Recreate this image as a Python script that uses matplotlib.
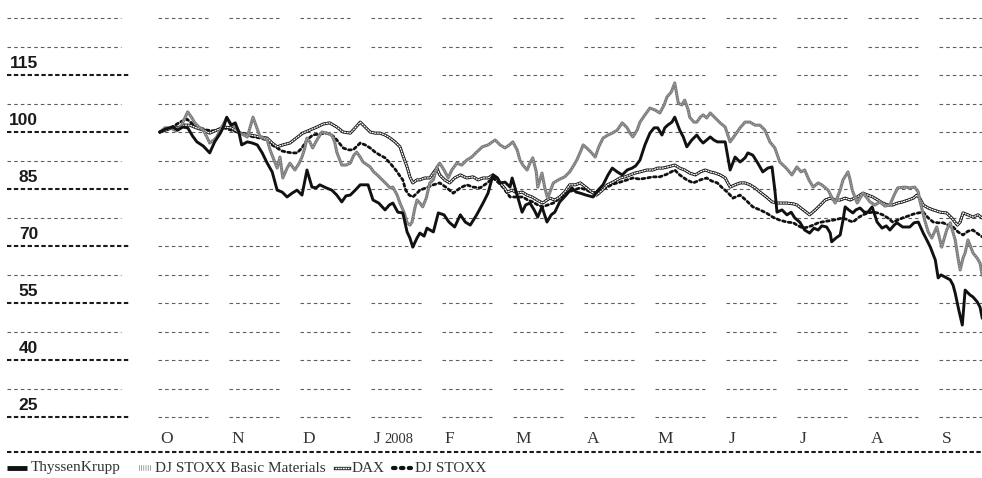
import numpy as np
import matplotlib
matplotlib.use("Agg")
import matplotlib.pyplot as plt

# Time axis: months since 1 Oct 2007; values indexed to 100
months = ["O", "N", "D", "J", "F", "M", "A", "M", "J", "J", "A", "S"]
label_levels = [115, 100, 85, 70, 55, 40, 25]

tk_t = [0, 0.08, 0.18, 0.25, 0.32, 0.39, 0.46, 0.52, 0.61, 0.66, 0.70, 0.77, 0.85, 0.90, 0.94, 1.00,
        1.06, 1.11, 1.15, 1.23, 1.30, 1.37, 1.44, 1.51, 1.58, 1.65, 1.72, 1.79, 1.86, 1.93, 2.00,
        2.07, 2.14, 2.20, 2.25, 2.34, 2.42, 2.49, 2.56, 2.62, 2.68, 2.75, 2.82, 2.93, 3.00, 3.08,
        3.17, 3.23, 3.28, 3.35, 3.42, 3.48, 3.52, 3.56, 3.62, 3.66, 3.72, 3.76, 3.85, 3.92, 4.00,
        4.07, 4.15, 4.23, 4.30, 4.37, 4.46, 4.55, 4.62, 4.69, 4.75, 4.79, 4.86, 4.93, 4.96, 5.03,
        5.10, 5.15, 5.21, 5.27, 5.32, 5.38, 5.45, 5.51, 5.56, 5.63, 5.72, 5.80, 5.86, 5.92, 6.00,
        6.10, 6.17, 6.24, 6.31, 6.37, 6.44, 6.51, 6.58, 6.65, 6.70, 6.76, 6.83, 6.90, 6.96, 7.01,
        7.07, 7.11, 7.15, 7.21, 7.25, 7.32, 7.37, 7.42, 7.49, 7.56, 7.61, 7.65, 7.70, 7.75, 7.80,
        7.85, 7.96, 8.03, 8.10, 8.17, 8.24, 8.28, 8.35, 8.42, 8.49, 8.56, 8.62, 8.66, 8.69, 8.76,
        8.83, 8.89, 8.94, 9.01, 9.08, 9.15, 9.21, 9.27, 9.32, 9.39, 9.44, 9.46, 9.52, 9.58, 9.62,
        9.65, 9.70, 9.76, 9.80, 9.86, 9.92, 9.97, 10.03, 10.10, 10.17, 10.23, 10.28, 10.34, 10.38,
        10.46, 10.56, 10.62, 10.68, 10.75, 10.80, 10.85, 10.92, 10.96, 11.00, 11.06, 11.13, 11.17,
        11.20, 11.25, 11.30, 11.34, 11.41, 11.45, 11.51, 11.55, 11.58]
tk_v = [100, 100.8, 101.3, 100.5, 101.3, 101.1, 98.9, 97.4, 96.3, 95.3, 94.5, 97.4, 99.7, 101.6, 103.9, 101.8,
        102.4, 100, 96.6, 97.4, 97.1, 96.6, 94.5, 91.8, 89.5, 84.7, 84.2, 82.9, 83.9, 84.7, 83.4,
        90, 85.5, 85.3, 86.1, 85.3, 84.7, 83.4, 81.6, 83.2, 83.4, 84.7, 86.1, 86.1, 82.1, 81.3,
        79.5, 80.8, 81.3, 78.9, 78.7, 73.7, 72.1, 69.7, 72.1, 73.4, 72.6, 74.7, 73.7, 78.7, 78.2,
        76.3, 75, 78.2, 76.3, 75.5, 78.2, 81.3, 83.9, 88.7, 87.9, 86.6, 86.8, 85.5, 87.9, 83.4,
        78.9, 80.8, 81.3, 79.5, 77.6, 80.3, 76.3, 78.2, 78.9, 81.6, 83.4, 85.3, 84.2, 83.9, 83.4,
        82.9, 84.7, 86.1, 88.7, 90.5, 89.5, 88.7, 90, 90.5, 91.1, 92.6, 96.6, 99.7, 101.1, 101.1,
        99.2, 101.1, 101.8, 102.6, 103.9, 100.5, 98.7, 96.1, 97.9, 99.2, 97.9, 97.1, 97.9, 98.7, 97.9,
        97.4, 97.4, 90, 93.4, 92.1, 93.2, 94.5, 93.9, 91.8, 89.5, 90.5, 90.8, 84.7, 78.9, 79.5,
        78.2, 78.9, 77.4, 76.3, 74.2, 73.4, 74.7, 74.2, 75.3, 75, 73.4, 71.1, 72.1, 72.9, 76.8,
        80.3, 79.5, 78.7, 79.5, 80, 78.9, 78.9, 80.3, 76.3, 74.7, 75.3, 74.2, 75.5, 76.1,
        75, 75, 76.1, 76.3, 73.4, 71.6, 69.7, 66.3, 61.6, 62.4, 61.8, 61.1, 59.7,
        57.6, 53.2, 49.2, 58.4, 57.1, 56.6, 55.3, 53.9, 51.1]

bm_t = [0, 0.07, 0.14, 0.23, 0.30, 0.35, 0.39, 0.45, 0.49, 0.55, 0.61, 0.66, 0.70, 0.76, 0.80, 0.87,
        0.94, 1.00, 1.06, 1.13, 1.18, 1.23, 1.27, 1.31, 1.35, 1.41, 1.46, 1.51, 1.55, 1.59, 1.65,
        1.69, 1.73, 1.79, 1.83, 1.90, 1.96, 2.00, 2.04, 2.07, 2.11, 2.15, 2.21, 2.28, 2.35, 2.42,
        2.46, 2.49, 2.56, 2.62, 2.68, 2.73, 2.77, 2.82, 2.86, 2.92, 2.96, 3.01, 3.06, 3.13, 3.20,
        3.24, 3.28, 3.34, 3.38, 3.44, 3.48, 3.52, 3.55, 3.59, 3.62, 3.66, 3.70, 3.75, 3.80, 3.85,
        3.90, 3.94, 4.00, 4.06, 4.11, 4.18, 4.25, 4.32, 4.39, 4.46, 4.54, 4.62, 4.72, 4.79, 4.86,
        4.92, 4.97, 5.03, 5.07, 5.11, 5.17, 5.21, 5.25, 5.30, 5.32, 5.38, 5.42, 5.46, 5.54, 5.61,
        5.70, 5.77, 5.83, 5.87, 5.92, 5.96, 6.01, 6.07, 6.13, 6.18, 6.24, 6.31, 6.37, 6.44, 6.51,
        6.58, 6.62, 6.66, 6.72, 6.76, 6.83, 6.90, 6.97, 7.04, 7.10, 7.14, 7.20, 7.25, 7.30, 7.35,
        7.39, 7.44, 7.46, 7.52, 7.56, 7.61, 7.65, 7.70, 7.75, 7.82, 7.89, 7.96, 8.03, 8.10, 8.17,
        8.24, 8.31, 8.38, 8.45, 8.52, 8.59, 8.66, 8.73, 8.82, 8.90, 8.97, 9.03, 9.08, 9.14, 9.20,
        9.27, 9.32, 9.41, 9.46, 9.51, 9.58, 9.62, 9.69, 9.72, 9.75, 9.82, 9.90, 9.96, 10.00, 10.07,
        10.14, 10.21, 10.28, 10.34, 10.39, 10.49, 10.56, 10.63, 10.68, 10.70, 10.77, 10.82, 10.87,
        10.94, 11.01, 11.08, 11.13, 11.20, 11.24, 11.27, 11.31, 11.34, 11.38, 11.45, 11.51, 11.55, 11.58]
bm_v = [100, 101.1, 101.1, 100.3, 101.6, 103.7, 105.3, 103.7, 102.4, 101.3, 100.5, 98.7, 97.1, 97.9, 98.7, 101.3,
        103.7, 102.1, 101.3, 99.7, 99.2, 98.7, 101.3, 103.9, 101.8, 98.7, 98.4, 97.9, 95.3, 93.4, 90.5,
        93.4, 87.9, 90.5, 91.8, 90, 91.8, 93.4, 95.8, 98.4, 97.4, 95.8, 97.9, 100, 99.7, 99.2,
        97.4, 94.7, 91.3, 91.3, 91.8, 93.9, 94.7, 93.4, 92.1, 91.3, 90.8, 89.5, 88.7, 87.4, 86.1,
        85.3, 85.5, 83.4, 81.3, 78.7, 76.1, 75.5, 76.3, 80, 82.1, 81.3, 80.3, 82.6, 86.6, 87.4,
        90.8, 91.8, 90, 87.9, 90, 91.8, 91.3, 92.6, 93.4, 94.7, 96.1, 96.6, 97.9, 96.6, 95.8,
        96.6, 97.4, 95.3, 92.6, 91.3, 90, 91.8, 93.2, 89.5, 85.5, 89.2, 85.3, 82.6, 86.6, 87.4,
        88.2, 89.5, 91.3, 92.6, 94.7, 96.6, 95.8, 94.7, 93.4, 96.1, 98.4, 99.2, 99.7, 100.5, 102.4,
        101.1, 99.7, 98.7, 100.5, 102.6, 104.5, 106.3, 105.8, 105, 107.1, 109.2, 110.5, 112.9, 107.6, 107.1,
        108.4, 105.8, 103.9, 102.6, 102.6, 103.9, 104.5, 103.7, 105, 103.7, 102.4, 101.3, 97.4, 99.2, 101.1,
        102.6, 102.6, 101.8, 101.8, 100.5, 97.4, 95.8, 92.1, 90.5, 88.7, 90.8, 89.5, 90, 87.4, 85.5,
        86.6, 86.1, 84.7, 82.9, 81.3, 84.7, 87.4, 89.5, 87.4, 84.7, 81.3, 83.9, 82.6, 81.6, 80.8,
        81.6, 80.5, 80.8, 83.4, 85.3, 85.5, 85.3, 85.5, 84.2, 82.1, 76.8, 73.7, 72.1,
        75, 69.7, 74.2, 76.1, 71.6, 66.8, 63.7, 66.8, 68.2, 71.6, 68.2, 66.8, 65.5, 62.4]

dax_t = [0, 0.08, 0.17, 0.25, 0.34, 0.42, 0.51, 0.61, 0.70, 0.80, 0.90, 1.00, 1.13, 1.27, 1.41, 1.51,
         1.58, 1.65, 1.73, 1.83, 1.92, 2.01, 2.11, 2.21, 2.30, 2.39, 2.49, 2.58, 2.68, 2.75, 2.82,
         2.89, 2.96, 3.03, 3.10, 3.17, 3.24, 3.31, 3.38, 3.42, 3.48, 3.52, 3.56, 3.62, 3.66, 3.73,
         3.80, 3.86, 3.90, 3.94, 4.01, 4.08, 4.15, 4.23, 4.32, 4.41, 4.48, 4.55, 4.62, 4.69, 4.75,
         4.79, 4.85, 4.89, 4.96, 5.03, 5.10, 5.17, 5.24, 5.31, 5.39, 5.49, 5.56, 5.63, 5.70, 5.77,
         5.85, 5.92, 6.01, 6.08, 6.15, 6.23, 6.30, 6.38, 6.48, 6.55, 6.62, 6.69, 6.76, 6.86, 6.94,
         7.01, 7.08, 7.15, 7.25, 7.32, 7.39, 7.46, 7.54, 7.61, 7.68, 7.75, 7.82, 7.89, 7.96, 8.03,
         8.10, 8.17, 8.24, 8.31, 8.38, 8.45, 8.54, 8.62, 8.70, 8.83, 8.92, 8.97, 9.06, 9.15, 9.23,
         9.30, 9.37, 9.44, 9.51, 9.58, 9.65, 9.72, 9.82, 9.90, 9.97, 10.04, 10.11, 10.18, 10.25, 10.32,
         10.39, 10.46, 10.54, 10.61, 10.66, 10.70, 10.75, 10.82, 10.89, 10.99, 11.08, 11.15, 11.23,
         11.27, 11.31, 11.38, 11.45, 11.52, 11.58]
dax_v = [100, 100.5, 101.1, 101.1, 101.8, 101.8, 101.1, 100.5, 99.7, 100.5, 101.3, 101.1, 99.7, 99.2, 98.7, 98.4,
         97.1, 96.1, 96.6, 97.1, 98.4, 99.7, 100.5, 101.3, 102.1, 102.4, 101.3, 100, 99.7, 101.1, 102.6,
         101.3, 100, 99.7, 99.7, 99.2, 98.4, 97.4, 96.1, 93.9, 90.8, 88.2, 86.6, 87.4, 87.4, 87.9,
         87.9, 89.5, 90.5, 88.7, 87.4, 86.6, 87.9, 88.7, 87.9, 88.2, 87.4, 87.9, 87.9, 88.7, 87.9,
         86.6, 85.3, 84.2, 84.7, 83.9, 84.2, 83.4, 82.9, 82.1, 81.3, 82.6, 82.1, 82.9, 84.2, 86.1,
         86.1, 86.6, 85.3, 84.2, 83.4, 84.7, 86.1, 86.8, 87.9, 88.2, 88.7, 89.2, 89.5, 90, 90,
         90.5, 90.5, 90.8, 91.3, 90.5, 90, 89.2, 88.7, 89.5, 90, 89.5, 89.2, 88.7, 87.9, 85.5,
         86.1, 86.6, 86.6, 86.1, 85.3, 84.2, 82.9, 81.6, 81.3, 81.3, 81.1, 80.8, 79.5, 78.2, 79.5,
         80.8, 82.1, 82.6, 82.1, 82.1, 82.6, 82.1, 82.9, 83.9, 83.4, 82.9, 82.1, 81.3, 80.8, 80.8,
         81.3, 81.6, 82.1, 82.6, 83.4, 82.6, 80.8, 80, 79.5, 78.9, 78.7, 77.4, 75.5,
         76.3, 78.7, 78.2, 77.6, 78.2, 77.4]

stoxx_t = [0, 0.10, 0.20, 0.28, 0.38, 0.46, 0.56, 0.66, 0.75, 0.80, 0.90, 1.00, 1.13, 1.27, 1.41, 1.51,
           1.58, 1.65, 1.72, 1.79, 1.86, 1.93, 2.00, 2.07, 2.15, 2.25, 2.35, 2.44, 2.49, 2.58, 2.65,
           2.72, 2.82, 2.89, 2.96, 3.03, 3.10, 3.17, 3.24, 3.30, 3.34, 3.38, 3.42, 3.46, 3.51, 3.56,
           3.62, 3.66, 3.75, 3.85, 3.94, 4.04, 4.13, 4.23, 4.32, 4.41, 4.51, 4.61, 4.69, 4.76, 4.83,
           4.89, 4.93, 5.03, 5.11, 5.18, 5.25, 5.32, 5.39, 5.46, 5.54, 5.63, 5.73, 5.82, 5.92, 6.01,
           6.10, 6.20, 6.30, 6.38, 6.48, 6.58, 6.66, 6.76, 6.86, 6.94, 7.04, 7.14, 7.25, 7.32, 7.42,
           7.51, 7.61, 7.70, 7.77, 7.85, 7.92, 7.99, 8.07, 8.17, 8.25, 8.35, 8.45, 8.54, 8.63, 8.73,
           8.83, 8.92, 8.99, 9.06, 9.13, 9.20, 9.27, 9.32, 9.41, 9.48, 9.55, 9.62, 9.69, 9.76, 9.83,
           9.90, 9.97, 10.04, 10.11, 10.18, 10.25, 10.32, 10.39, 10.46, 10.54, 10.61, 10.68, 10.75,
           10.82, 10.89, 10.96, 11.03, 11.10, 11.17, 11.24, 11.31, 11.38, 11.45, 11.52, 11.58]
stoxx_v = [100, 100.8, 101.6, 102.6, 103.4, 102.1, 101.1, 100.5, 100.3, 100.5, 101.1, 100.5, 99.7, 98.9, 98.4, 97.9,
           96.6, 95.8, 95, 94.7, 94.5, 94.5, 95.8, 97.9, 99.2, 99.5, 99.7, 98.9, 97.9, 95.8, 95.3,
           95.3, 97.1, 96.6, 95.8, 94.7, 93.9, 93.2, 91.8, 90.5, 89.5, 88.4, 87.4, 84.7, 83.4, 82.9,
           83.9, 84.7, 85.3, 86.1, 86.6, 85.3, 83.9, 85.3, 86.1, 85.5, 85.3, 86.6, 87.9, 86.8, 85.5,
           83.9, 82.9, 82.9, 82.9, 82.1, 81.6, 80.8, 80.3, 80.8, 81.3, 82.6, 83.9, 84.7, 85.3, 84.7,
           83.9, 84.7, 85.5, 86.3, 86.8, 87.4, 87.9, 87.6, 87.9, 88.2, 88.2, 88.9, 90, 88.7, 87.4,
           86.6, 87.4, 87.9, 87.1, 86.6, 85.3, 84.2, 82.6, 83.4, 82.1, 80.3, 79.5, 78.7, 77.6, 76.8,
           76.3, 76.1, 75.3, 74.7, 75, 75.5, 76.1, 76.3, 76.6, 76.8, 77.1, 77.4, 76.8, 76.3, 77.4,
           78.2, 78.7, 78.9, 78.7, 78.2, 77.4, 76.3, 76.8, 77.4, 77.9, 78.4, 78.7, 78.9,
           77.4, 76.3, 76.1, 76.1, 75.5, 75, 73.7, 72.9, 73.9, 74.2, 73.2, 72.4]


# pixel -> data mapping of the reference (160 px = 1 Oct, 71 px per month, 3.8 px per point)
X0, PX_MONTH = 160, 71.0
Y100, PX_UNIT = 132, 3.8
W, H = 982, 478


def to_t(px):
    return (px - X0) / PX_MONTH


def to_v(py):
    return 100 - (py - Y100) / PX_UNIT


fig = plt.figure(figsize=(W / 100, H / 100), dpi=100)
ax = fig.add_axes([0, 0, 1, 1])
ax.set_xlim(to_t(0), to_t(W))
ax.set_ylim(to_v(H), to_v(0))
ax.axis("off")

thin = dict(color="#5e5e5e", lw=0.8, linestyle=(0, (3.2, 2.8)), zorder=1)
thick = dict(color="#1a1a1a", lw=1.5, linestyle=(0, (2.1, 1.2)), zorder=1)

# grid: thin dashed rows every 7.5 points, broken per month
grid_levels = np.arange(130, 24, -7.5)
for lev in grid_levels:
    for i in range(len(months)):
        ax.plot([i - 0.03, i + 0.675], [lev, lev], **thin)
    if lev in label_levels:
        ax.plot([to_t(7), to_t(129)], [lev, lev], **thick)
    else:
        ax.plot([to_t(7), to_t(121)], [lev, lev], **thin)

for lev in label_levels:
    ax.text(to_t(38), lev + 1.9, str(lev), ha="right", va="baseline",
            fontsize=12.5, fontweight="bold", family="Liberation Sans", color="#1a1a1a")

# bottom rule and month labels
ax.plot([to_t(7), to_t(W)], [to_v(452), to_v(452)], **thick)
serif = dict(family="Liberation Serif", color="#333333")
for i, m in enumerate(months):
    ax.text(i + 0.01, to_v(443), m, ha="left", va="baseline", fontsize=12.5, **serif)
ax.annotate("2008", xy=(3, to_v(443)), xytext=(8.5, 0), textcoords="offset points",
            ha="left", va="baseline", fontsize=10.5, **serif)

# series
ax.plot(stoxx_t, stoxx_v, color="#111111", lw=2.0, linestyle=(0, (1.0, 1.1)),
        dash_capstyle="round", zorder=3)
ax.plot(dax_t, dax_v, color="#111111", lw=2.2, zorder=4)
ax.plot(dax_t, dax_v, color="white", lw=0.9, linestyle=(0, (1.6, 0.5)), zorder=4)
ax.plot(bm_t, bm_v, color="#7c7c7c", lw=2.2, zorder=5)
ax.plot(bm_t, bm_v, color="#c8c8c8", lw=0.6, linestyle=(0, (1.0, 2.0)), zorder=5)
ax.plot(tk_t, tk_v, color="#111111", lw=2.1, zorder=6)

# legend row
ly = to_v(468)
lfs = 11
ax.plot([to_t(7), to_t(27)], [ly, ly], color="#111111", lw=3.5, solid_capstyle="butt")
ax.text(to_t(31), ly, "ThyssenKrupp", va="center", fontsize=lfs, **serif)
ax.plot([to_t(139), to_t(152)], [ly, ly], color="#777777", lw=4, linestyle=(0, (0.12, 0.28)))
ax.text(to_t(155), ly, "DJ STOXX Basic Materials", va="center", fontsize=lfs, **serif)
ax.plot([to_t(335), to_t(349)], [ly, ly], color="#333333", lw=2.4)
ax.plot([to_t(335), to_t(349)], [ly, ly], color="white", lw=1.0, linestyle=(0, (1.2, 0.6)))
ax.text(to_t(352), ly, "DAX", va="center", fontsize=lfs, **serif)
ax.plot([to_t(393), to_t(411)], [ly, ly], color="#111111", lw=3, linestyle=(0, (0.6, 1.3)),
        dash_capstyle="round")
ax.text(to_t(415), ly, "DJ STOXX", va="center", fontsize=lfs, **serif)

fig.savefig("out.png", dpi=100)
